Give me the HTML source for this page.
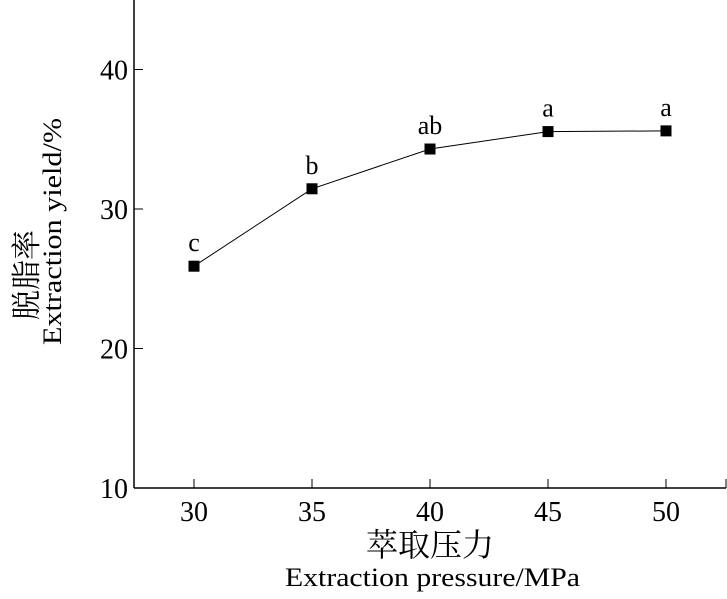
<!DOCTYPE html>
<html><head><meta charset="utf-8"><style>
body{margin:0;background:#fff;}
svg text{font-family:"Liberation Serif","Noto Serif CJK SC",serif;fill:#000;}
</style></head><body>
<svg id="c" width="727" height="594" viewBox="0 0 727 594" xmlns="http://www.w3.org/2000/svg"></svg>
<script>
const categories=[30,35,40,45,50];
const yieldValues=[25.9,31.45,34.3,35.55,35.6];
const letters=["c","b","ab","a","a"];
const yTicks=[10,20,30,40];
const xTicks=[30,35,40,45,50];
const NS="http://www.w3.org/2000/svg";
const svg=document.getElementById('c');
const X=v=>194+(v-30)*23.6;
const Y=v=>488-(v-10)*13.95;
function mk(t,a,p){const e=document.createElementNS(NS,t);for(const k in a)e.setAttribute(k,a[k]);(p||svg).appendChild(e);return e;}
let e;
e=mk('line',{x1:134,y1:0,x2:134,y2:488,stroke:'#000','stroke-width':1.5});


e=mk('line',{x1:134,y1:488,x2:726,y2:488,stroke:'#000','stroke-width':1.5});


e=mk('line',{x1:726,y1:488,x2:726,y2:479,stroke:'#000','stroke-width':1});


yTicks.forEach(v=>{
 e=mk('line',{x1:134,y1:Y(v),x2:143,y2:Y(v),stroke:'#000','stroke-width':1});
 
 
 e=mk('text',{x:128,y:Y(v)+10,'text-anchor':'end','font-size':28});
 e.textContent=v;
 
 
});
xTicks.forEach(v=>{
 e=mk('line',{x1:X(v),y1:488,x2:X(v),y2:479,stroke:'#000','stroke-width':1});
 
 
 e=mk('text',{x:X(v),y:521,'text-anchor':'middle','font-size':28});
 e.textContent=v;
 
 
});
e=mk('polyline',{points:categories.map((c,i)=>X(c)+','+Y(yieldValues[i])).join(' '),fill:'none',stroke:'#000','stroke-width':1});


categories.forEach((c,i)=>{
 e=mk('rect',{x:X(c)-5.5,y:Y(yieldValues[i])-5.5,width:11,height:11,fill:'#000'});
 
 
 e=mk('text',{x:X(c),y:Y(yieldValues[i])-15,'text-anchor':'middle','font-size':26});
 e.textContent=letters[i];
 
 
});
e=mk('text',{x:430,y:556,'text-anchor':'middle','font-size':32});
e.textContent='萃取压力';


e=mk('text',{x:285,y:586,'font-size':26,textLength:295,lengthAdjust:'spacingAndGlyphs'});
e.textContent='Extraction pressure/MPa';


e=mk('text',{x:0,y:0,'text-anchor':'middle','font-size':30,transform:'translate(37,275) rotate(-90)'});
e.textContent='脱脂率';


e=mk('text',{x:-345,y:0,'font-size':26,textLength:227,lengthAdjust:'spacingAndGlyphs',transform:'translate(61,0) rotate(-90)'});
e.textContent='Extraction yield/%';


</script>
</body></html>
